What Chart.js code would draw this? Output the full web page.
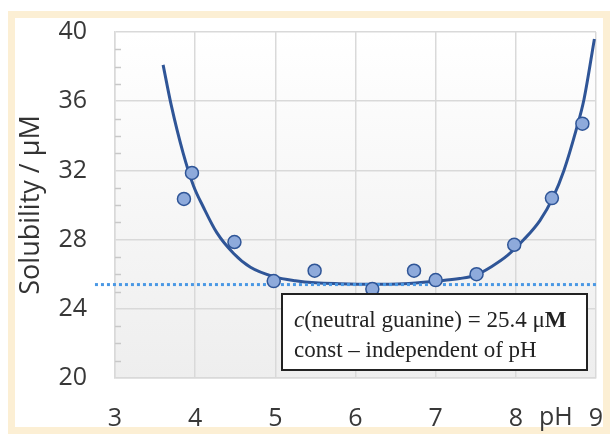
<!DOCTYPE html>
<html>
<head>
<meta charset="utf-8">
<script src="https://cdn.jsdelivr.net/npm/chart.js@4.4.1/dist/chart.umd.min.js"></script>
<style>
    html, body { margin: 0; padding: 0; background: #ffffff; }
    #wrap { position: relative; width: 610px; height: 434px; overflow: hidden; }
    #frame {
        position: absolute; left: 8px; top: 11px; width: 588px; height: 409px;
        border: 7px solid #fcefd4;
    }
    #chart { position: absolute; left: 0; top: 0; }
</style>
</head>
<body>
<div id="wrap">
    <div id="frame"></div>
    <canvas id="chart" width="610" height="434"></canvas>
</div>
<script>
// === DATA ===
// measured solubility points
const phMeasured = [3.86, 3.96, 4.49, 4.98, 5.49, 6.21, 6.73, 7.00, 7.51, 7.98, 8.45, 8.83];
const solMeasured = [30.35, 31.85, 27.86, 25.6, 26.2, 25.14, 26.2, 25.66, 26.0, 27.7, 30.4, 34.7];

// fitted curve
const phFit = [3.60, 3.70, 3.85, 3.98, 4.10, 4.27, 4.48, 4.69, 4.98, 5.25, 5.50, 5.80, 6.20,
    6.60, 7.00, 7.30, 7.50, 7.70, 7.90, 8.10, 8.30, 8.46, 8.60, 8.75, 8.85, 8.98];
const solFit = [38.1, 35.8, 33.0, 31.1, 29.9, 28.4, 27.2, 26.4, 25.86, 25.62, 25.5, 25.45, 25.42,
    25.45, 25.6, 25.75, 25.95, 26.45, 27.1, 28.0, 29.1, 30.4, 32.0, 34.3, 36.1, 39.6];

// neutral guanine level (dotted line)
const neutralLevel = 25.4;
const neutralSpan = [2.75, 9];

const xTicks = [3, 4, 5, 6, 7, 8, 9];
const yTicks = [20, 24, 28, 32, 36, 40];

const COLORS = {
    line: "#2f5597",
    point: "#8eaadb",
    dotted: "#4a98e4",
    grid: "#d9d9d9",
    text: "#383838",
};

// === PLUGINS ===
const plotBackground = {
    id: "plotBackground",
    beforeDraw(chart) {
        const { ctx, chartArea: a } = chart;
        const g = ctx.createLinearGradient(0, a.top, 0, a.bottom);
        g.addColorStop(0, "#ffffff");
        g.addColorStop(1, "#eeeeee");
        ctx.save();
        ctx.fillStyle = g;
        ctx.fillRect(a.left, a.top, a.right - a.left, a.bottom - a.top);
        ctx.restore();
    },
    beforeDatasetsDraw(chart) {
        // minor ticks on the inside of the y axis
        const { ctx, chartArea: a, scales } = chart;
        ctx.save();
        ctx.strokeStyle = "#c8c8c8";
        ctx.lineWidth = 1.5;
        for (let v = scales.y.min + 1; v < scales.y.max; v++) {
            if (v % 4 === 0) continue;
            const py = Math.round(scales.y.getPixelForValue(v)) + 0.5;
            ctx.beginPath();
            ctx.moveTo(a.left, py);
            ctx.lineTo(a.left + 6, py);
            ctx.stroke();
        }
        ctx.restore();
    },
    afterDraw(chart) {
        const { ctx, scales } = chart;
        ctx.save();
        // "pH" label between 8 and 9
        ctx.fillStyle = COLORS.text;
        ctx.font = "25px 'Open Sans'";
        ctx.textAlign = "center";
        ctx.textBaseline = "middle";
        ctx.fillText("pH", scales.x.getPixelForValue(8.5), 418);

        // annotation box
        const bx = 282, by = 294, bw = 305, bh = 76;
        ctx.fillStyle = "#ffffff";
        ctx.fillRect(bx, by, bw, bh);
        ctx.strokeStyle = "#222222";
        ctx.lineWidth = 2;
        ctx.strokeRect(bx, by, bw, bh);

        ctx.fillStyle = "#222222";
        ctx.textAlign = "left";
        ctx.textBaseline = "alphabetic";
        let x = 294;
        const y1 = 327, y2 = 357;
        const parts = [
            ["italic 23px 'Liberation Serif'", "c"],
            ["23px 'Liberation Serif'", "(neutral guanine) = 25.4 μ"],
            ["bold 23px 'Liberation Serif'", "M"],
        ];
        parts.forEach(([f, t]) => {
            ctx.font = f;
            ctx.fillText(t, x, y1);
            x += ctx.measureText(t).width;
        });
        ctx.font = "23px 'Liberation Serif'";
        ctx.fillText("const – independent of pH", 294, y2);
        ctx.restore();
    },
};

// === CHART ===
const ctx = document.getElementById("chart").getContext("2d");
new Chart(ctx, {
    type: "scatter",
    data: {
        datasets: [
            {
                label: "measured",
                data: phMeasured.map((x, i) => ({ x, y: solMeasured[i] })),
                backgroundColor: COLORS.point,
                borderColor: COLORS.line,
                borderWidth: 1.5,
                pointRadius: 6.5,
                order: 0,
            },
            {
                label: "neutral",
                data: neutralSpan.map((x) => ({ x, y: neutralLevel })),
                showLine: true,
                borderColor: COLORS.dotted,
                borderWidth: 3,
                borderDash: [3, 3],
                pointRadius: 0,
                clip: false,
                order: 1,
            },
            {
                label: "fit",
                data: phFit.map((x, i) => ({ x, y: solFit[i] })),
                showLine: true,
                borderColor: COLORS.line,
                borderWidth: 3,
                pointRadius: 0,
                cubicInterpolationMode: "monotone",
                order: 2,
            },
        ],
    },
    options: {
        responsive: false,
        animation: false,
        layout: { autoPadding: false, padding: { top: 32, right: 14, left: 0, bottom: 0 } },
        plugins: {
            legend: { display: false },
            tooltip: { enabled: false },
        },
        scales: {
            x: {
                type: "linear",
                min: 3,
                max: 9,
                afterBuildTicks: (s) => { s.ticks = xTicks.map((v) => ({ value: v })); },
                afterFit: (s) => { s.height = 56; },
                ticks: {
                    color: COLORS.text,
                    font: { family: "'Open Sans'", size: 25 },
                    padding: 0,
                },
                // transparent tick marks give the label gap without padding the chart area
                grid: { color: COLORS.grid, lineWidth: 1.5, drawTicks: true, tickLength: 26, tickColor: "transparent" },
                border: { color: COLORS.grid, width: 1.5 },
            },
            y: {
                min: 20,
                max: 40,
                afterBuildTicks: (s) => { s.ticks = yTicks.map((v) => ({ value: v })); },
                afterFit: (s) => { s.width = 115; },
                ticks: {
                    color: COLORS.text,
                    font: { family: "'Open Sans'", size: 25 },
                    padding: 0,
                },
                grid: { color: COLORS.grid, lineWidth: 1.5, drawTicks: true, tickLength: 28, tickColor: "transparent" },
                border: { color: COLORS.grid, width: 1.5 },
                title: {
                    display: true,
                    text: "Solubility / μM",
                    color: "#333333",
                    font: { family: "'Open Sans'", size: 27 },
                    padding: { top: 15, bottom: 0 },
                },
            },
        },
    },
    plugins: [plotBackground],
});
</script>
</body>
</html>
